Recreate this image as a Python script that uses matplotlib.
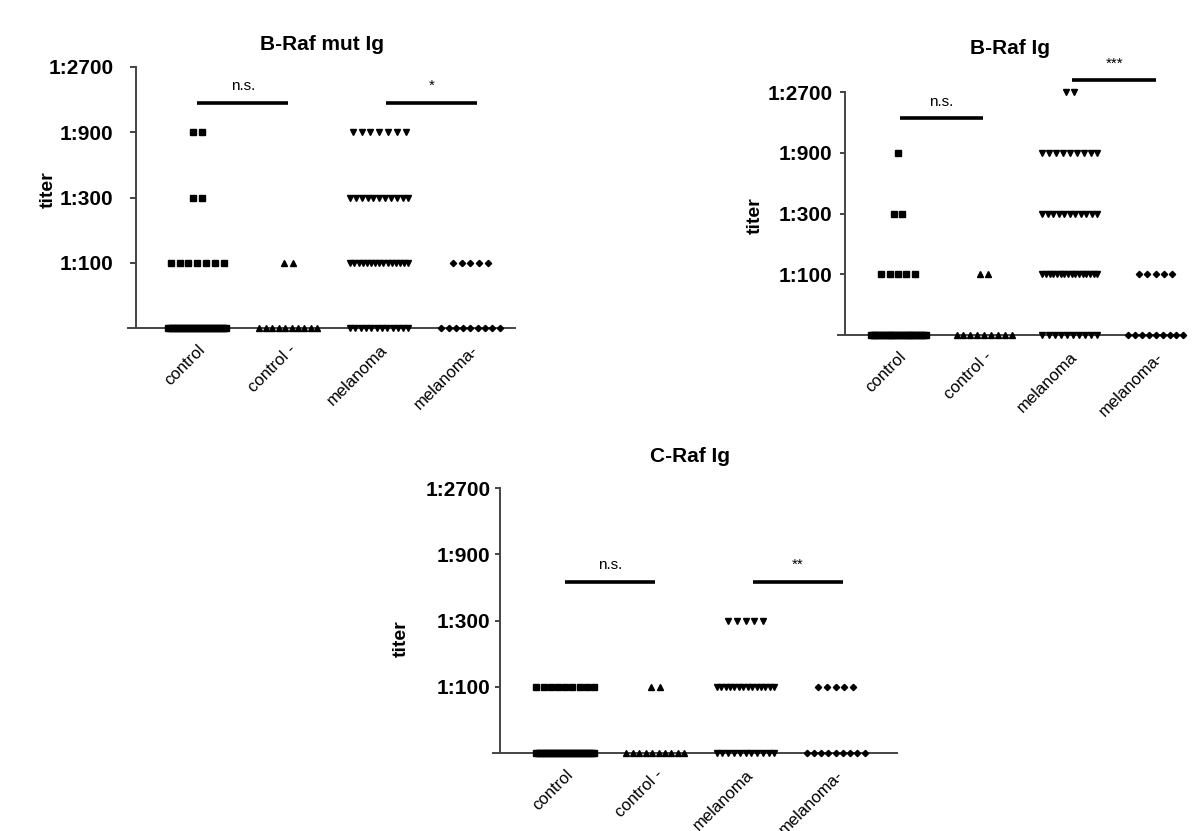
import numpy as np
import matplotlib.pyplot as plt

plt.rcParams['font.family'] = ['Liberation Sans', 'DejaVu Sans']

groups = ['control', 'control -', 'melanoma', 'melanoma-']
titer_labels = ['1:100', '1:300', '1:900', '1:2700']
markers = ['s', '^', 'v', 'D']
marker_sizes = [4.5, 4.5, 4.5, 3.2]

# number of sera at each level: negative, 1:100, 1:300, 1:900, 1:2700
braf_mut_counts = [[30, 7, 2, 2, 0],
                   [10, 2, 0, 0, 0],
                   [12, 15, 11, 7, 0],
                   [9, 5, 0, 0, 0]]
braf_counts = [[30, 5, 2, 1, 0],
               [9, 2, 0, 0, 0],
               [10, 16, 11, 9, 2],
               [9, 5, 0, 0, 0]]
craf_counts = [[30, 9, 0, 0, 0],
               [10, 2, 0, 0, 0],
               [11, 14, 5, 0, 0],
               [9, 5, 0, 0, 0]]

# significance bars: (first group, second group, level, label)
braf_mut_sig = [(0, 1, 3.45, 'n.s.'), (2.07, 3.07, 3.45, '*')]
braf_sig = [(0.02, 0.99, 3.57, 'n.s.'), (2.03, 3.0, 4.2, '***')]
craf_sig = [(0, 1, 2.58, 'n.s.'), (2.08, 3.08, 2.58, '**')]

W, H = 1200, 831
fig = plt.figure(figsize=(12, 8.31), dpi=100)


def px_axes(x0, x1, y_bottom, y_top):
    return fig.add_axes([x0 / W, 1 - y_bottom / H, (x1 - x0) / W, (y_bottom - y_top) / H])


def draw_panel(ax, counts, sig, xlim, spine_x, title_xy, title, ylabel_xy, tick_len, tick_pad):
    for g, row in enumerate(counts):
        for level, n in enumerate(row):
            if n == 0:
                continue
            step = min(0.097, 0.64 / max(n - 1, 1))
            xs = g + (np.arange(n) - (n - 1) / 2) * step
            ax.plot(xs, np.full(n, level), linestyle='none', marker=markers[g],
                    markersize=marker_sizes[g], color='black', clip_on=False, zorder=3)
    for a, b, lev, lab in sig:
        ax.plot([a, b], [lev, lev], color='black', lw=2.6, solid_capstyle='butt', clip_on=False)
        ax.text((a + b) / 2, lev + 0.15, lab, ha='center', va='bottom', fontsize=11)
    ax.set_xlim(*xlim)
    ax.set_ylim(0, 4)
    ax.spines['top'].set_visible(False)
    ax.spines['right'].set_visible(False)
    ax.spines['left'].set_position(('data', spine_x))
    for s in ('left', 'bottom'):
        ax.spines[s].set_color('#444444')
        ax.spines[s].set_linewidth(1.4)
    ax.set_yticks([1, 2, 3, 4])
    ax.set_yticklabels(titer_labels, fontsize=15, fontweight='bold')
    ax.tick_params(axis='y', length=tick_len, width=1.4, color='#444444', pad=tick_pad)
    ax.set_xticks(range(len(groups)))
    ax.set_xticklabels(groups, rotation=45, ha='right', rotation_mode='anchor', fontsize=12)
    ax.tick_params(axis='x', length=0, pad=10)
    ax.set_ylabel('titer', fontsize=14, fontweight='bold')
    ax.yaxis.set_label_coords(*ylabel_xy)
    fig.text(title_xy[0] / W, 1 - title_xy[1] / H, title, ha='center', va='center',
             fontsize=15, fontweight='bold')


ax1 = px_axes(128, 515, 328, 67)
draw_panel(ax1, braf_mut_counts, braf_mut_sig, (-0.76, 3.49), -0.67,
           (322, 44), 'B-Raf mut Ig', (-0.183, 0.53), 4.3, 12)

ax2 = px_axes(838, 1185, 335, 92)
draw_panel(ax2, braf_counts, braf_sig, (-0.70, 3.34), -0.616,
           (1010, 48), 'B-Raf Ig', (-0.213, 0.49), 3.6, 5.5)

ax3 = px_axes(493, 897, 753, 488)
draw_panel(ax3, craf_counts, craf_sig, (-0.80, 3.68), -0.72,
           (690, 457), 'C-Raf Ig', (-0.205, 0.43), 3.6, 3.5)

fig.savefig('out.png', dpi=100)
